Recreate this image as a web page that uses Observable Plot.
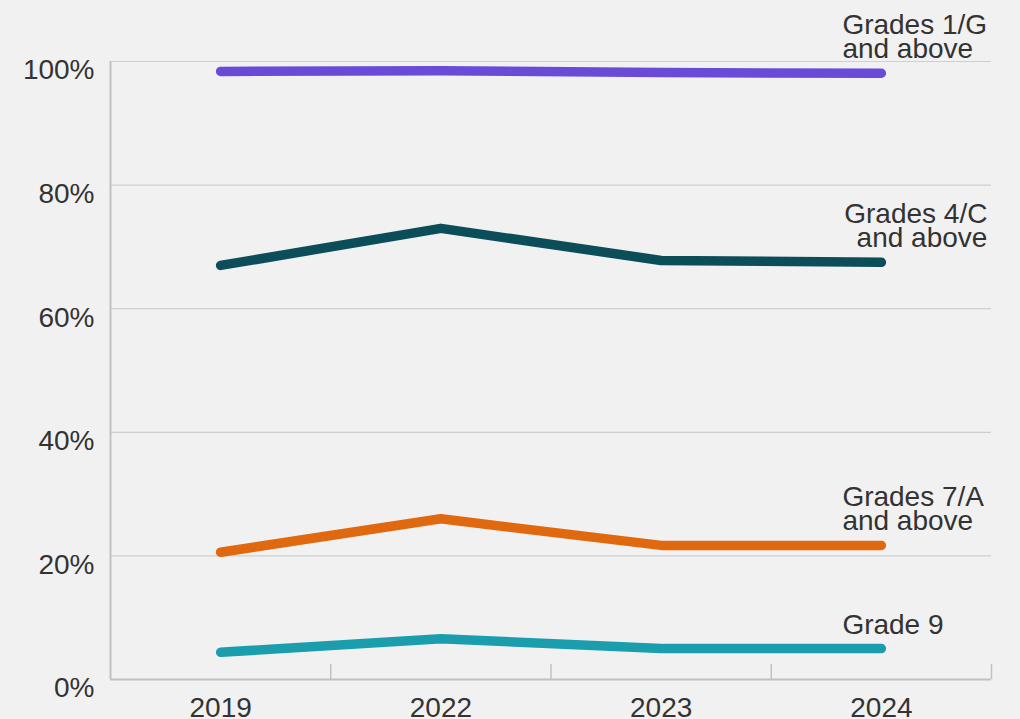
<!DOCTYPE html>
<html>
<head>
<meta charset="utf-8">
<script src="https://cdn.jsdelivr.net/npm/d3@7"></script>
<script src="https://cdn.jsdelivr.net/npm/@observablehq/plot@0.6"></script>
<style>
  html, body { margin: 0; padding: 0; background: #f2f1f2; overflow: hidden; }
  #chart svg { display: block; background: #f2f1f2; }
</style>
</head>
<body>
<div id="chart"></div>
<script>
// ---- data ----
const years = ["2019", "2022", "2023", "2024"];
const seriesNames = ["Grades 1/G and above", "Grades 4/C and above", "Grades 7/A and above", "Grade 9"];
const grades1G = [98.4, 98.5, 98.2, 98.1];
const grades4C = [67.0, 73.0, 67.8, 67.5];
const grades7A = [20.6, 26.0, 21.7, 21.7];
const grade9 = [4.4, 6.6, 5.0, 5.0];
const seriesLabels = ["Grades 1/G\nand above", "Grades 4/C\nand above", "Grades 7/A\nand above", "Grade 9"];
const yTicks = [0, 20, 40, 60, 80, 100];
const seriesColors = ["#6a4bd8", "#0b4d58", "#e0680f", "#1a9eae"];

const allValues = [grades1G, grades4C, grades7A, grade9];
const rows = [];
seriesNames.forEach((s, si) => {
  allValues[si].forEach((v, i) => rows.push({series: s, i, year: years[i], value: v}));
});
const labelRows = seriesNames.map((s, si) => ({
  series: s,
  label: seriesLabels[si],
  i: years.length - 1,
  value: allValues[si][years.length - 1]
}));
const boundaries = d3.range(years.length + 1).map(k => k - 0.5);

const font = "'Liberation Sans', Arial, Helvetica, sans-serif";
const textColor = "#333333";

const chart = Plot.plot({
  width: 1020,
  height: 719,
  marginLeft: 110,
  marginRight: 29,
  marginTop: 61,
  marginBottom: 40,
  style: {fontFamily: font, background: "#f2f1f2", color: textColor},
  x: {domain: [-0.5, years.length - 0.5], axis: null},
  y: {domain: [0, 100], axis: null},
  color: {domain: seriesNames, range: seriesColors},
  marks: [
    Plot.gridY(yTicks.filter(d => d > 0), {stroke: "#cfcfcf", strokeOpacity: 1, strokeWidth: 1.2}),
    Plot.ruleX([boundaries[0]], {y1: 0, y2: 100, stroke: "#c2c2c2", strokeWidth: 2}),
    Plot.ruleY([0], {stroke: "#c2c2c2", strokeWidth: 2}),
    Plot.ruleX(boundaries.slice(1), {y1: 0, y2: 0, insetTop: -15, stroke: "#c2c2c2", strokeWidth: 1.5}),
    Plot.axisY({
      ticks: yTicks, tickSize: 0, tickPadding: 16, tickFormat: d => d + "%", label: null,
      fontSize: 28, dy: 9, fill: textColor, fontFamily: font
    }),
    Plot.axisX({
      ticks: d3.range(years.length), tickSize: 0, tickPadding: 18, label: null,
      tickFormat: i => years[i], fontSize: 28, fill: textColor, fontFamily: font
    }),
    Plot.line(rows, {
      x: "i", y: "value", z: "series", stroke: "series",
      strokeWidth: 9.5, strokeLinecap: "round", strokeLinejoin: "round"
    }),
    Plot.text(labelRows.filter(d => d.series !== "Grades 4/C and above"), {
      x: "i", y: "value", text: "label", textAnchor: "start", lineAnchor: "bottom",
      lineHeight: 0.86, dx: -39, dy: -15, fontSize: 28, fill: textColor, fontFamily: font
    }),
    Plot.text(labelRows.filter(d => d.series === "Grades 4/C and above"), {
      x: "i", y: "value", text: "label", textAnchor: "end", lineAnchor: "bottom",
      lineHeight: 0.86, dx: 106, dy: -15, fontSize: 28, fill: textColor, fontFamily: font
    })
  ]
});
document.getElementById("chart").appendChild(chart);
</script>
</body>
</html>
